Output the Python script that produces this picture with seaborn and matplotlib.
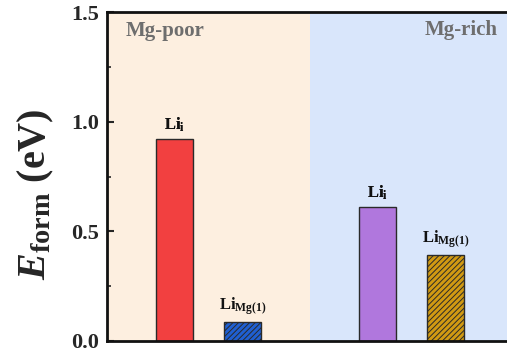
import matplotlib
matplotlib.use("Agg")
import matplotlib.pyplot as plt
import seaborn as sns
import pandas as pd

# Formation energies of Li defects under two chemical-potential limits
positions = [1, 2, 4, 5]
energies = [0.92, 0.085, 0.61, 0.39]
defects = [r"$\mathbf{Li}_{\mathbf{i}}$", r"$\mathbf{Li}_{\mathbf{Mg(1)}}$",
           r"$\mathbf{Li}_{\mathbf{i}}$", r"$\mathbf{Li}_{\mathbf{Mg(1)}}$"]
keys = ["poor_i", "poor_mg", "rich_i", "rich_mg"]
bar_colors = ["#F24040", "#1F5FD2", "#B077DD", "#D19A12"]
hatches = [None, "//////", None, "//////"]
regions = ["Mg-poor", "Mg-rich"]

sns.set_theme(style="white")
plt.rcParams["font.family"] = ["Liberation Serif", "DejaVu Serif"]
plt.rcParams["font.weight"] = "bold"
plt.rcParams["mathtext.fontset"] = "custom"
plt.rcParams["mathtext.rm"] = "Liberation Serif:bold"
plt.rcParams["mathtext.bf"] = "Liberation Serif:bold"
plt.rcParams["mathtext.it"] = "Liberation Serif:italic:bold"
plt.rcParams["hatch.linewidth"] = 0.7

df = pd.DataFrame({"pos": positions, "E": energies, "key": keys})

fig = plt.figure(figsize=(5.07, 3.53), dpi=100)
ax = fig.add_axes([107 / 507, 12 / 353, 406 / 507, 329 / 353])

ax.axvspan(0, 3, color="#FDEFE0", zorder=0, lw=0)
ax.axvspan(3, 6, color="#D9E6FB", zorder=0, lw=0)

sns.barplot(data=df, x="pos", y="E", hue="key", palette=bar_colors,
            native_scale=True, width=0.54, dodge=False, legend=False,
            saturation=1, edgecolor="#2a2a2a", linewidth=1.0, ax=ax, zorder=2)

for p in ax.patches:
    xc = p.get_x() + p.get_width() / 2
    i = min(range(len(positions)), key=lambda k: abs(positions[k] - xc))
    if hatches[i]:
        p.set_hatch(hatches[i])
    ax.text(positions[i], energies[i] + 0.025, defects[i], ha="center",
            va="bottom", fontsize=12, color="#111111")

ax.text(0.27, 1.413, regions[0], ha="left", va="center", fontsize=15,
        fontweight="bold", color="#6E6E6E")
ax.text(5.23, 1.42, regions[1], ha="center", va="center", fontsize=15,
        fontweight="bold", color="#6E6E6E")

ax.set_xlim(0, 6)
ax.set_ylim(0, 1.5)
ax.set_xticks([])
ax.set_yticks([0.0, 0.5, 1.0, 1.5])
ax.set_yticks([0.25, 0.75, 1.25], minor=True)
ax.set_yticklabels(["0.0", "0.5", "1.0", "1.5"], fontsize=16, fontweight="bold")
ax.tick_params(axis="y", which="major", direction="in", length=5, width=1.5, left=True, pad=6)
ax.tick_params(axis="y", which="minor", direction="in", length=3, width=1.2, left=True)
ax.set_xlabel("")
ax.set_ylabel(r"$E_{\mathbf{form}}$ (eV)", fontsize=29, fontweight="bold")
ax.yaxis.set_label_coords(-0.125, 0.447)

for s in ax.spines.values():
    s.set_linewidth(2)
    s.set_color("#111111")
ax.spines["right"].set_visible(False)

fig.savefig("out.png", dpi=100)
